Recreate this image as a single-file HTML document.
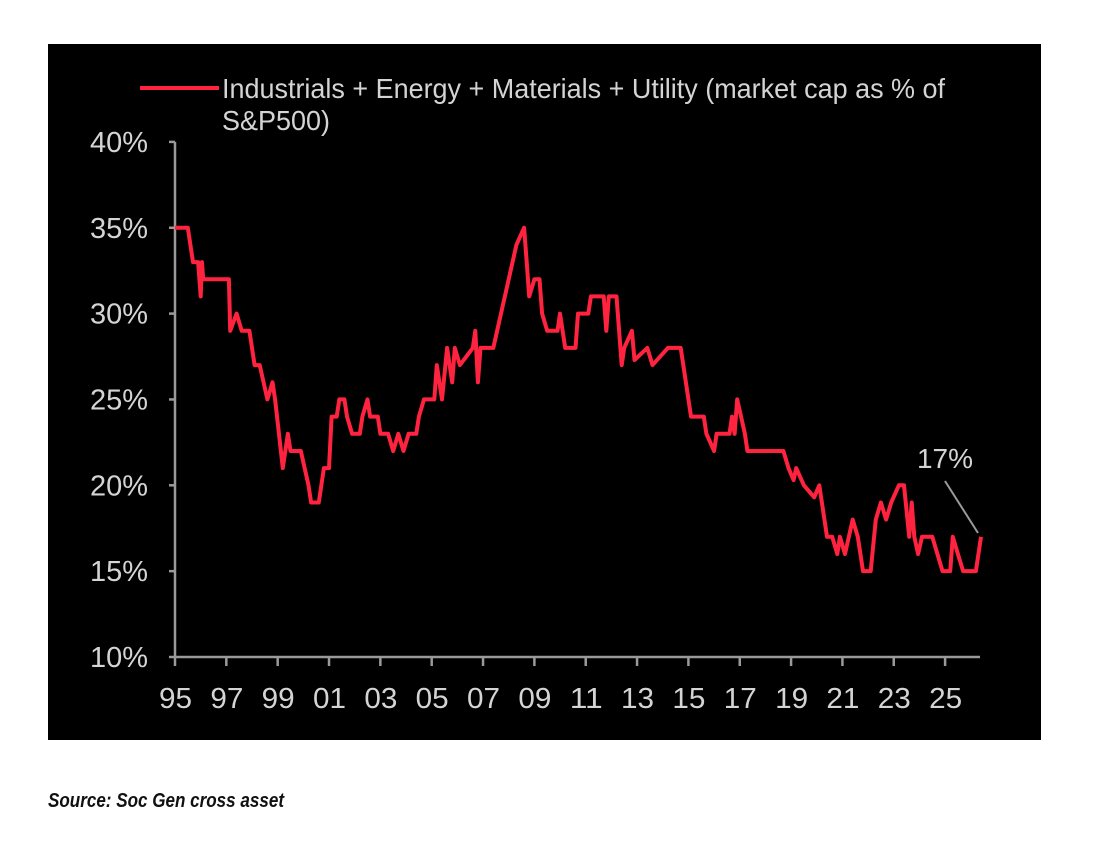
<!DOCTYPE html>
<html><head><meta charset="utf-8"><style>
html,body{margin:0;padding:0;background:#fff;width:1100px;height:847px;overflow:hidden}
svg{display:block}
text{font-family:"Liberation Sans",sans-serif}
</style></head><body>
<svg id="chart" width="1100" height="847" xmlns="http://www.w3.org/2000/svg">
<rect x="48" y="44" width="993" height="696" fill="#000"/>
<g id="axes"></g>
<g id="series"></g>
<g>
<line x1="140" y1="88" x2="219" y2="88" stroke="#ff2340" stroke-width="4"/>
<text x="222" y="98" font-size="28" fill="#d4d4d4" textLength="723" lengthAdjust="spacingAndGlyphs">Industrials + Energy + Materials + Utility (market cap as % of</text>
<text x="222" y="130" font-size="28" fill="#d4d4d4" textLength="108" lengthAdjust="spacingAndGlyphs">S&amp;P500)</text>
</g>
<text x="917" y="468" font-size="28" fill="#d4d4d4" textLength="56" lengthAdjust="spacingAndGlyphs">17%</text>
<line x1="945" y1="481" x2="978" y2="533" stroke="#9a9a9a" stroke-width="2"/>
<text x="48" y="807" font-size="20" font-weight="bold" font-style="italic" fill="#111" textLength="236" lengthAdjust="spacingAndGlyphs">Source: Soc Gen cross asset</text>
</svg>
<script>
const years=[1995,1995.5,1995.7,1995.9,1996.0,1996.05,1996.1,1997.1,1997.15,1997.4,1997.6,1997.9,1998.1,1998.3,1998.6,1998.8,1998.9,1999.2,1999.4,1999.5,1999.9,2000.2,2000.3,2000.6,2000.8,2001.0,2001.1,2001.3,2001.4,2001.6,2001.7,2001.9,2002.2,2002.3,2002.5,2002.6,2002.9,2003.0,2003.3,2003.5,2003.7,2003.9,2004.1,2004.4,2004.5,2004.7,2005.1,2005.2,2005.4,2005.6,2005.8,2005.9,2006.1,2006.6,2006.7,2006.8,2006.9,2007.4,2007.7,2008.0,2008.3,2008.6,2008.7,2008.8,2009.0,2009.2,2009.3,2009.5,2009.9,2010.0,2010.2,2010.6,2010.7,2011.1,2011.2,2011.7,2011.8,2011.9,2012.2,2012.4,2012.5,2012.8,2012.9,2013.4,2013.6,2014.2,2014.7,2014.8,2015.1,2015.6,2015.7,2016.0,2016.1,2016.6,2016.7,2016.8,2016.9,2017.2,2017.3,2018.7,2018.9,2019.1,2019.2,2019.5,2019.9,2020.1,2020.4,2020.6,2020.8,2020.9,2021.1,2021.4,2021.6,2021.8,2022.1,2022.3,2022.5,2022.7,2022.9,2023.2,2023.4,2023.6,2023.7,2023.8,2023.95,2024.1,2024.5,2024.7,2024.9,2025.2,2025.3,2025.5,2025.7,2026.2,2026.4];
const values=[35,35,33,33,31,33,32,32,29,30,29,29,27,27,25,26,25,21,23,22,22,20,19,19,21,21,24,24,25,25,24,23,23,24,25,24,24,23,23,22,23,22,23,23,24,25,25,27,25,28,26,28,27,28,29,26,28,28,30,32,34,35,33,31,32,32,30,29,29,30,28,28,30,30,31,31,29,31,31,27,28,29,27.3,28,27,28,28,27,24,24,23,22,23,23,24,23,25,23,22,22,21,20.3,21,20,19.3,20,17,17,16,17,16,18,17,15,15,18,19,18,19,20,20,17,19,17,16,17,17,16,15,15,17,16,15,15,17];
const yTicks=[10,15,20,25,30,35,40];
const xTickYears=[1995,1997,1999,2001,2003,2005,2007,2009,2011,2013,2015,2017,2019,2021,2023,2025];
const xTickLabels=["95","97","99","01","03","05","07","09","11","13","15","17","19","21","23","25"];
const NS="http://www.w3.org/2000/svg";
const X0=175,PX_PER_YEAR=25.67,Y0=657,PX_PER_PCT=17.17;
function xs(y){return X0+(y-1995)*PX_PER_YEAR;}
function ys(v){return Y0-(v-10)*PX_PER_PCT;}
const axes=document.getElementById('axes');
function mk(tag,attrs,parent){const e=document.createElementNS(NS,tag);for(const k in attrs)e.setAttribute(k,attrs[k]);parent.appendChild(e);return e;}
const ya=mk('line',{x1:X0,y1:ys(40),x2:X0,y2:Y0,stroke:'#9a9a9a','stroke-width':2.5},axes);


const xa=mk('line',{x1:X0,y1:Y0,x2:980,y2:Y0,stroke:'#9a9a9a','stroke-width':2.5},axes);


yTicks.forEach(t=>{
  const tk=mk('line',{x1:X0-6,y1:ys(t),x2:X0,y2:ys(t),stroke:'#9a9a9a','stroke-width':2.5},axes);
  
  
  const lb=mk('text',{x:148,y:ys(t)+10,'font-size':29,fill:'#d4d4d4','text-anchor':'end',textLength:58,lengthAdjust:'spacingAndGlyphs'},axes);
  lb.textContent=t+'%';
  
  
});
xTickYears.forEach((y,i)=>{
  const tk=mk('line',{x1:xs(y),y1:Y0,x2:xs(y),y2:Y0+9,stroke:'#9a9a9a','stroke-width':2.5},axes);
  
  
  const lb=mk('text',{x:xs(y)-16,y:708,'font-size':29,fill:'#d4d4d4',textLength:33,lengthAdjust:'spacingAndGlyphs'},axes);
  lb.textContent=xTickLabels[i];
  
  
});
const d=years.map((y,i)=>(i?'L':'M')+xs(y).toFixed(1)+' '+ys(values[i]).toFixed(1)).join(' ');
const p=mk('path',{d:d,fill:'none',stroke:'#ff2340','stroke-width':4,'stroke-linejoin':'round'},document.getElementById('series'));


</script>
</body></html>
